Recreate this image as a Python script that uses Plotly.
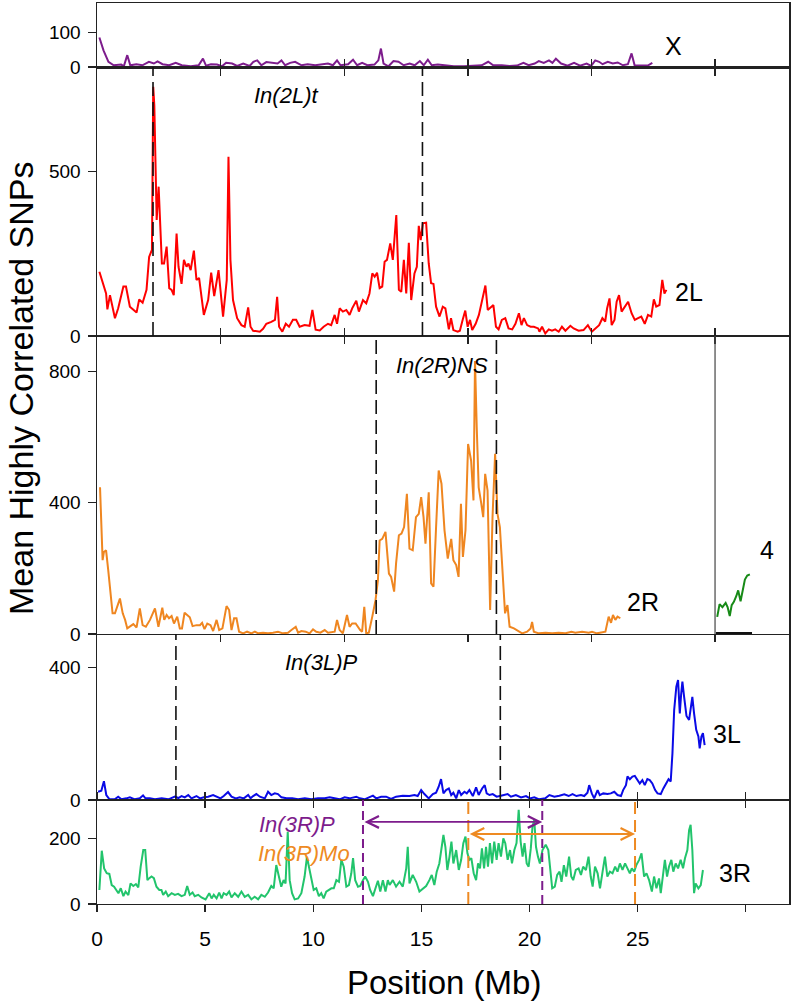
import plotly.graph_objects as go

# ---------------------------------------------------------------- data
# Chromosome X
chrX_pos = [0.11,0.3,0.53,0.77,1.12,1.24,1.4,1.54,1.82,2.1,2.4,2.63,2.8,3.03,3.34,3.64,3.92,4.34,4.7,4.9,
            5.04,5.27,5.55,5.78,5.97,6.25,6.48,6.76,7.06,7.23,7.41,7.6,7.83,8.11,8.35,8.53,8.7,8.93,9.16,9.46,
            9.74,10.09,10.44,10.68,10.91,11.1,11.26,11.61,11.84,12.03,12.26,12.5,12.83,13.01,13.13,13.25,13.48,13.71,13.94,14.18,
            14.46,14.69,14.93,15.11,15.3,15.48,15.76,16.04,16.5,16.97,17.44,17.79,18.09,18.32,18.72,19.07,19.42,19.72,19.96,20.24,
            20.43,20.66,20.9,21.06,21.22,21.46,21.76,22.06,22.34,22.64,22.85,23.04,23.22,23.38,23.62,23.85,24.08,24.32,24.55,24.72,
            24.86,25.14,25.49,25.68]
chrX_val = [85,48,15,5,7,2,34,5,8,5,15,10,16,8,5,12,5,2,5,24,
            4,8,7,2,12,10,3,10,3,15,19,5,14,12,10,19,5,12,15,5,
            8,5,7,10,5,19,5,8,21,5,12,5,7,19,53,10,2,17,15,5,
            10,5,17,5,21,5,7,5,2,2,3,5,15,5,5,3,4,12,5,10,
            17,12,19,12,24,10,4,12,4,10,3,19,15,8,15,10,13,5,8,39,
            5,4,5,12]

# Chromosome 2L
chr2L_pos = [0.11,0.42,0.48,0.6,0.83,0.98,1.22,1.34,1.52,1.83,
             1.95,2.11,2.29,2.41,2.54,2.6,2.65,2.69,2.76,2.85,
             2.91,3.0,3.1,3.22,3.34,3.45,3.55,3.68,3.77,3.91,
             4.02,4.14,4.23,4.33,4.48,4.6,4.72,4.94,5.14,5.28,
             5.42,5.62,5.83,6.0,6.08,6.17,6.29,6.48,6.68,6.83,
             6.99,7.1,7.22,7.53,7.68,7.83,8.06,8.23,8.33,8.42,
             8.57,8.73,8.88,9.06,9.21,9.37,9.6,9.83,9.96,10.11,
             10.3,10.48,10.68,10.83,10.99,11.1,11.22,11.37,11.53,11.68,
             11.8,11.99,12.11,12.3,12.45,12.6,12.73,12.84,12.95,13.07,
             13.19,13.3,13.41,13.56,13.68,13.84,13.96,14.07,14.19,14.3,
             14.42,14.53,14.68,14.79,14.88,14.97,15.07,15.22,15.34,15.45,
             15.56,15.68,15.84,15.99,16.11,16.27,16.37,16.48,16.68,16.78,
             16.91,17.03,17.14,17.25,17.35,17.51,17.66,17.84,17.96,18.07,
             18.23,18.33,18.45,18.57,18.72,18.88,19.03,19.2,19.35,19.51,
             19.63,19.74,19.89,20.05,20.2,20.4,20.46,20.58,20.73,20.89,
             21.04,21.19,21.35,21.5,21.66,21.89,22.04,22.27,22.5,22.7,
             22.88,23.07,23.22,23.37,23.5,23.59,23.7,23.8,23.93,24.03,
             24.14,24.26,24.41,24.56,24.72,24.87,25.02,25.17,25.33,25.48,
             25.63,25.75,25.86,26.01,26.14,26.24,26.33]
chr2L_val = [195,129,81,124,54,84,150,150,89,71,
             111,101,140,240,261,756,700,534,352,453,
             372,220,220,271,145,140,124,311,210,158,
             231,210,220,200,259,170,176,64,109,192,
             121,200,59,170,544,231,109,54,33,28,
             87,28,16,13,22,37,43,49,119,28,
             13,37,28,49,49,28,33,31,79,19,
             17,28,37,33,64,37,84,74,79,64,
             84,107,74,109,99,129,190,180,192,145,
             150,225,231,281,231,367,140,134,231,129,
             283,109,190,210,334,291,342,344,220,160,
             158,89,59,89,84,20,54,18,13,16,
             49,77,28,49,18,37,64,114,153,79,
             89,94,28,20,49,54,23,20,37,69,
             33,54,33,28,28,23,13,28,8,20,
             16,20,13,28,16,31,23,16,18,33,
             13,23,33,54,44,84,114,33,49,104,
             124,74,89,104,69,49,54,59,37,64,
             59,111,89,94,170,129,140]

# Chromosome 2R
chr2R_pos = [0.14,0.26,0.32,0.42,0.52,0.63,0.72,0.83,0.94,1.06,
             1.19,1.3,1.4,1.55,1.68,1.83,1.98,2.11,2.26,2.45,
             2.68,2.84,3.02,3.11,3.22,3.33,3.45,3.56,3.71,3.83,
             3.93,4.05,4.17,4.29,4.42,4.6,4.76,4.86,4.97,5.1,
             5.25,5.37,5.53,5.65,5.8,5.99,6.11,6.22,6.34,6.45,
             6.57,6.76,6.94,7.14,7.3,7.45,7.68,7.91,8.14,8.37,
             8.6,8.83,8.99,9.19,9.3,9.45,9.65,9.83,9.99,10.14,
             10.33,10.53,10.68,10.88,10.99,11.1,11.22,11.37,11.56,11.68,
             11.8,11.96,12.06,12.17,12.26,12.36,12.45,12.57,12.73,12.88,
             12.99,13.07,13.19,13.34,13.5,13.6,13.74,13.83,13.96,14.08,
             14.2,14.33,14.45,14.6,14.75,14.88,14.99,15.1,15.19,15.34,
             15.45,15.56,15.68,15.8,15.93,16.07,16.22,16.38,16.48,16.61,
             16.72,16.83,16.92,17.04,17.16,17.3,17.41,17.48,17.56,17.65,
             17.77,17.86,17.95,18.06,18.18,18.29,18.41,18.52,18.63,18.75,
             18.87,18.98,19.08,19.28,19.51,19.66,19.89,20.05,20.12,20.2,
             20.43,20.74,21.05,21.35,21.66,21.94,22.12,22.43,22.74,22.89,
             23.12,23.35,23.51,23.66,23.77,23.86,23.97,24.07,24.2]
chr2R_val = [447,225,250,255,194,123,63,63,83,108,
             63,43,17,24,30,20,78,27,22,43,
             78,22,80,43,58,48,55,32,53,17,
             17,65,58,51,24,27,27,34,15,32,
             27,9,43,12,17,85,73,12,48,48,
             7,2,7,2,7,2,4,2,4,7,
             2,4,12,22,4,9,7,2,14,7,
             4,12,4,7,7,43,12,2,58,22,
             32,32,22,12,7,83,2,4,53,103,
             164,285,290,311,184,174,129,215,301,306,
             326,427,260,255,356,366,417,356,275,432,
             154,144,326,498,458,316,230,290,225,210,
             174,397,235,316,579,528,407,832,630,447,
             397,356,488,437,73,356,549,366,326,194,
             63,88,22,17,7,2,7,17,37,7,
             2,4,2,4,2,7,4,7,4,7,
             2,4,7,53,34,58,43,53,48]

# Chromosome 4 (plotted to the right of 2R, offset in Mb)
chr4_offset = 28.58
chr4_pos = [0.10,0.21,0.34,0.49,0.58,0.68,0.77,0.87,0.98,1.07,1.18,1.29,1.38,1.49,1.61]
chr4_val = [52,91,82,95,82,55,88,98,115,133,100,140,166,178,182]
chr4_base_pos = [0.04,1.71]
chr4_base_val = [3,3]

# Chromosome 3L
chr3L_pos = [0.05,0.2,0.32,0.43,0.58,0.82,0.98,1.13,1.36,1.52,
             1.75,1.98,2.13,2.24,2.44,2.68,2.99,3.3,3.6,3.76,
             3.91,4.06,4.22,4.37,4.6,4.76,4.94,5.14,5.37,5.56,
             5.71,5.86,6.06,6.22,6.42,6.6,6.79,6.99,7.1,7.22,
             7.37,7.53,7.76,7.91,8.06,8.22,8.37,8.53,8.76,9.03,
             9.3,9.61,9.91,10.22,10.53,10.76,10.99,11.22,11.45,11.68,
             11.99,12.15,12.37,12.6,12.76,12.91,13.14,13.37,13.6,13.83,
             14.14,14.45,14.68,14.83,14.99,15.14,15.34,15.53,15.68,15.8,
             15.91,16.02,16.14,16.27,16.38,16.48,16.61,16.73,16.84,16.99,
             17.1,17.22,17.38,17.53,17.65,17.81,17.93,18.02,18.15,18.3,
             18.48,18.68,18.83,18.99,19.14,19.37,19.61,19.84,20.02,20.22,
             20.45,20.73,20.92,21.15,21.38,21.61,21.81,21.99,22.17,22.38,
             22.53,22.68,22.76,22.88,22.99,23.15,23.25,23.41,23.61,23.76,
             23.92,24.07,24.23,24.33,24.46,24.53,24.64,24.76,24.87,24.99,
             25.1,25.22,25.33,25.45,25.56,25.68,25.81,25.92,26.07,26.19,
             26.3,26.43,26.53,26.61,26.69,26.79,26.87,26.95,27.01,27.07,
             27.15,27.26,27.38,27.45,27.53,27.61,27.71,27.81,27.87,27.95,
             28.02,28.1]
chr3L_val = [25,28,57,15,2,2,10,2,5,8,
             2,5,14,5,5,2,5,2,10,6,
             12,8,15,5,12,5,8,10,15,10,
             5,12,24,10,5,8,5,15,5,12,
             18,10,5,25,15,20,18,8,5,5,
             2,5,2,5,5,8,5,2,8,5,
             10,5,2,8,13,5,10,10,3,10,
             13,12,15,12,30,18,5,18,22,40,
             63,20,30,35,15,22,5,30,15,25,
             20,30,12,38,15,35,45,20,15,18,
             10,13,15,18,10,15,8,12,5,8,
             2,5,15,10,13,17,12,18,12,15,
             12,22,45,20,5,30,15,20,18,20,
             25,15,12,30,45,71,63,71,73,60,
             50,60,45,63,60,50,30,20,18,35,
             50,63,56,141,272,343,363,262,318,358,
             312,254,242,272,312,262,212,192,156,192,
             202,166]

# Chromosome 3R
chr3R_pos = [0.11,0.22,0.33,0.45,0.57,0.68,0.79,0.88,0.99,1.1,
             1.22,1.32,1.45,1.55,1.68,1.8,1.91,2.02,2.14,2.23,
             2.33,2.42,2.52,2.63,2.75,2.88,2.98,3.06,3.18,3.29,
             3.45,3.6,3.75,3.91,4.06,4.17,4.29,4.42,4.52,4.68,
             4.83,5.02,5.19,5.3,5.4,5.53,5.65,5.76,5.86,5.99,
             6.11,6.22,6.37,6.53,6.68,6.83,6.99,7.14,7.29,7.45,
             7.6,7.76,7.91,8.06,8.17,8.29,8.4,8.52,8.63,8.72,
             8.82,8.91,9.02,9.14,9.3,9.45,9.6,9.71,9.8,9.91,
             10.02,10.14,10.26,10.37,10.48,10.6,10.73,10.84,10.95,11.07,
             11.19,11.3,11.41,11.53,11.65,11.76,11.84,11.94,12.07,12.17,
             12.3,12.4,12.53,12.63,12.76,12.88,12.99,13.1,13.22,13.34,
             13.45,13.53,13.68,13.83,13.99,14.14,14.3,14.37,14.45,14.6,
             14.76,14.91,15.07,15.22,15.37,15.48,15.6,15.71,15.83,15.93,
             16.02,16.11,16.2,16.3,16.39,16.48,16.61,16.73,16.84,16.94,
             17.04,17.13,17.22,17.31,17.42,17.53,17.62,17.71,17.8,17.9,
             17.99,18.08,18.17,18.27,18.37,18.48,18.57,18.68,18.79,18.88,
             18.99,19.1,19.19,19.3,19.4,19.5,19.59,19.68,19.77,19.87,
             19.96,20.06,20.14,20.22,20.3,20.39,20.48,20.6,20.75,20.87,
             20.96,21.05,21.17,21.28,21.39,21.48,21.59,21.7,21.83,21.93,
             22.02,22.14,22.27,22.38,22.48,22.61,22.73,22.83,22.92,23.03,
             23.15,23.26,23.38,23.49,23.6,23.72,23.84,23.96,24.07,24.18,
             24.3,24.42,24.53,24.64,24.73,24.84,24.94,25.07,25.18,25.3,
             25.41,25.53,25.66,25.76,25.87,25.99,26.07,26.17,26.26,26.36,
             26.45,26.56,26.65,26.76,26.87,26.99,27.1,27.19,27.3,27.38,
             27.45,27.53,27.61,27.68,27.81,27.92,28.02]
chr3R_val = [43,163,109,94,92,58,53,43,33,48,
             24,38,27,63,55,61,51,114,165,165,
             73,79,84,79,53,43,43,28,38,24,
             33,28,31,24,28,55,28,35,24,28,
             20,14,33,17,28,17,35,17,33,28,
             38,20,33,22,38,22,28,14,22,14,
             28,22,35,55,48,119,84,53,73,63,
             221,73,33,14,17,33,84,145,114,73,
             43,48,24,33,17,38,43,48,48,73,
             68,135,114,53,58,94,140,73,53,55,
             73,84,68,43,24,53,71,38,73,38,
             73,58,73,53,68,53,109,175,63,89,
             68,38,48,55,73,89,58,99,124,165,
             211,175,104,145,191,124,165,104,135,186,
             206,155,135,140,94,73,124,109,170,109,
             175,114,186,124,191,135,186,145,201,186,
             135,165,124,165,186,288,191,145,186,124,
             114,170,237,257,175,145,124,165,181,165,
             104,48,53,89,99,68,119,84,145,84,
             73,104,109,89,114,104,145,84,53,114,
             94,48,99,145,84,99,94,114,99,124,
             104,124,109,94,109,99,119,135,155,84,
             94,73,38,84,48,78,33,89,135,84,
             114,135,99,124,109,135,109,140,165,226,
             242,165,33,63,48,58,104]

# Inversion breakpoints (Mb)
In2Lt = [2.59, 15.05]
In2RNS = [12.91, 18.47]
In3LP = [3.65, 18.65]
In3RP = [12.30, 20.59]
In3RMo = [17.17, 24.88]

# Axis ticks
y_max = [184, 816, 908, 502, 318]
y_tickvals = [[0, 100], [0, 500], [0, 400, 800], [0, 400], [0, 200]]
x_tickvals_mb = [0, 5, 10, 15, 20, 25, 30]
x_ticktext_mb = ["0", "5", "10", "15", "20", "25", ""]
inner_tickvals = [5.72, 11.44, 17.15, 22.87, 28.58]

# ---------------------------------------------------------------- style / layout
FONT = "Liberation Sans, Arial, sans-serif"
AXC = "#222222"
C_X = "#7D1C8C"
C_2L = "#FF0000"
C_2R = "#EF8620"
C_4 = "#178A17"
C_3L = "#0A0AE6"
C_3R = "#22C46C"
C_P = "#7D1C8C"
C_MO = "#EE8A22"

W, H = 793, 1005
LEFT, RIGHT = 97, 789
EDGES = [3, 67, 336, 634, 800, 904]   # pixel rows of panel borders
PH = EDGES[-1] - EDGES[0]


def px2paper(px, py):
    return (px - LEFT) / (RIGHT - LEFT), (EDGES[-1] - py) / PH


def sfx(i):
    return "" if i == 0 else str(i + 1)


fig = go.Figure()

series = [
    (chrX_pos, chrX_val, C_X, 0),
    (chr2L_pos, chr2L_val, C_2L, 1),
    (chr2R_pos, chr2R_val, C_2R, 2),
    ([chr4_offset + p for p in chr4_pos], chr4_val, C_4, 2),
    ([chr4_offset + p for p in chr4_base_pos], chr4_base_val, "#111111", 2),
    (chr3L_pos, chr3L_val, C_3L, 3),
    (chr3R_pos, chr3R_val, C_3R, 4),
]
for xs, ys, col, pi in series:
    fig.add_trace(go.Scatter(x=xs, y=ys, mode="lines",
                             line=dict(color=col, width=2),
                             xaxis="x" + sfx(pi), yaxis="y" + sfx(pi),
                             hoverinfo="skip", showlegend=False))

layout = dict(template="none", width=W, height=H,
              margin=dict(l=LEFT, r=W - RIGHT, t=EDGES[0], b=H - EDGES[-1], pad=0),
              paper_bgcolor="white", plot_bgcolor="white",
              font=dict(family=FONT, color="black"), showlegend=False)

for i in range(5):
    s = sfx(i)
    dom = [(EDGES[-1] - EDGES[i + 1]) / PH, (EDGES[-1] - EDGES[i]) / PH]
    xa = dict(domain=[0, 1], range=[0, 32], anchor="y" + s, showline=True,
              linecolor=AXC, linewidth=1.1, showgrid=False, zeroline=False,
              ticks="outside", ticklen=7, tickwidth=1.3, tickcolor=AXC,
              showticklabels=False, automargin=False)
    if i in (0, 1, 2):
        xa["tickvals"] = inner_tickvals
    elif i == 3:
        xa["tickvals"] = x_tickvals_mb[1:]
    else:
        xa["tickvals"] = x_tickvals_mb
        xa["ticktext"] = x_ticktext_mb
        xa["showticklabels"] = True
        xa["tickfont"] = dict(size=21, family=FONT, color="black")
        xa["ticklabelstandoff"] = 9
    if i == 0:
        xa["mirror"] = True
        xa["linewidth"] = 1.5
    elif i in (1, 2, 4):
        xa["mirror"] = "ticks"
    ya = dict(domain=dom, range=[0, y_max[i]], anchor="x" + s, showline=True,
              linecolor=AXC, linewidth=1.5, mirror=True, showgrid=False,
              zeroline=False, ticks="outside", ticklen=8, tickwidth=1.3,
              tickcolor=AXC, tickvals=y_tickvals[i],
              ticktext=[str(v) for v in y_tickvals[i]],
              tickfont=dict(size=19, family=FONT, color="black"),
              ticklabelstandoff=3, automargin=False)
    layout["xaxis" + s] = xa
    layout["yaxis" + s] = ya

fig.update_layout(**layout)

# dashed breakpoint lines
shapes = []


def vline(xv, pi, color, dash, width=1.6):
    s = sfx(pi)
    shapes.append(dict(type="line", xref="x" + s, yref="y" + s + " domain",
                       x0=xv, x1=xv, y0=0, y1=1,
                       line=dict(color=color, width=width, dash=dash)))


for v in In2Lt:
    vline(v, 1, "#111111", "14px,6px")
for v in In2RNS:
    vline(v, 2, "#111111", "14px,6px")
for v in In3LP:
    vline(v, 3, "#111111", "14px,6px")
for v in In3RP:
    vline(v, 4, C_P, "9px,5px", 2)
for v in In3RMo:
    vline(v, 4, C_MO, "12px,6px", 2)
vline(chr4_offset, 2, "#444444", "solid", 1.2)
fig.update_layout(shapes=shapes)

# text labels
ann = []


def label(text, px, py, size, color="black", **kw):
    x, y = px2paper(px, py)
    ann.append(dict(text=text, x=x, y=y, xref="paper", yref="paper",
                    showarrow=False, xanchor="center", yanchor="middle",
                    font=dict(size=size, color=color, family=FONT), **kw))


label("X", 673, 46, 25)
label("2L", 689, 292, 25)
label("2R", 643, 602, 25)
label("4", 767, 550, 25)
label("3L", 727, 734, 25)
label("3R", 735, 873, 25)
label("<i>In(2L)t</i>", 286, 96, 22)
label("<i>In(2R)NS</i>", 442, 365, 22)
label("<i>In(3L)P</i>", 321, 662, 22)
label("<i>In(3R)P</i>", 297, 824, 22, C_P)
label("<i>In(3R)Mo</i>", 304, 853, 22, C_MO)
label("Mean Highly Correlated SNPs", 21, 388, 34, textangle=-90)
label("Position (Mb)", 444, 983, 33)

# double-headed inversion arrows in 3R panel
ARROW_Y_P = 251
ARROW_Y_MO = 214
for (a, b), yv, col in ((In3RP, ARROW_Y_P, C_P), (In3RMo, ARROW_Y_MO, C_MO)):
    ann.append(dict(text="", x=b, y=yv, ax=a, ay=yv, xref="x5", yref="y5",
                    axref="x5", ayref="y5", showarrow=True, arrowhead=5,
                    startarrowhead=5, arrowside="end+start", arrowsize=1.3,
                    startarrowsize=1.3, arrowwidth=1.8, arrowcolor=col,
                    standoff=0, startstandoff=0))

fig.update_layout(annotations=ann)

fig.write_html("out.html",
               config={"displayModeBar": False, "staticPlot": True},
               post_script="document.body.style.margin='0px';"
                           "document.body.style.overflow='hidden';")
